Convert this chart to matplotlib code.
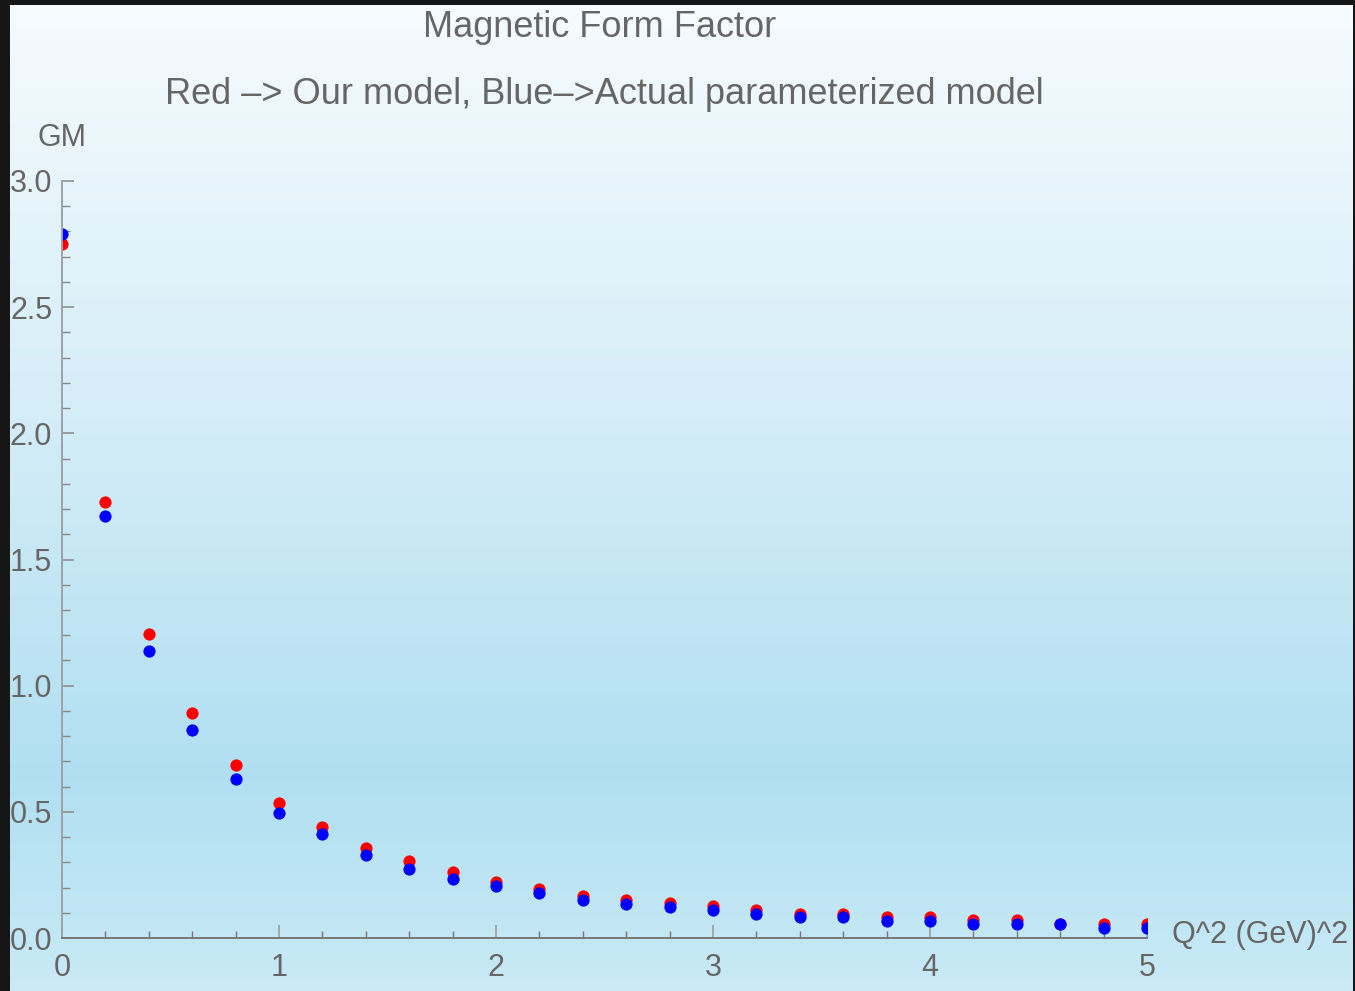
import numpy as np
import matplotlib
matplotlib.use("Agg")
import matplotlib.pyplot as plt
from matplotlib.colors import LinearSegmentedColormap
from matplotlib.patches import Rectangle
from matplotlib.ticker import MultipleLocator, FormatStrFormatter

# data
q2 = [0.0, 0.2, 0.4, 0.6, 0.8, 1.0, 1.2, 1.4, 1.6, 1.8, 2.0, 2.2, 2.4,
      2.6, 2.8, 3.0, 3.2, 3.4, 3.6, 3.8, 4.0, 4.2, 4.4, 4.6, 4.8, 5.0]
gm_ours = [2.75, 1.726, 1.206, 0.892, 0.685, 0.535, 0.441, 0.358, 0.304,
           0.263, 0.223, 0.193, 0.165, 0.151, 0.138, 0.126, 0.111, 0.097,
           0.097, 0.083, 0.083, 0.070, 0.070, 0.055, 0.057, 0.057]
gm_param = [2.79, 1.672, 1.139, 0.824, 0.630, 0.495, 0.411, 0.329, 0.273,
            0.234, 0.206, 0.178, 0.151, 0.136, 0.124, 0.110, 0.097, 0.083,
            0.083, 0.069, 0.069, 0.054, 0.054, 0.054, 0.041, 0.041]

W, H = 1355, 991
TXT = "#666666"
plt.rcParams["font.family"] = ["Liberation Sans", "DejaVu Sans"]

fig = plt.figure(figsize=(W / 100, H / 100), dpi=100)

# background: vertical gradient + dark frame
bg = fig.add_axes([0, 0, 1, 1], zorder=-10)
grad = LinearSegmentedColormap.from_list("bg", [
    (0.00, "#c9eaf6"),
    (0.22, "#b1dff1"),
    (0.55, "#d2ecf7"),
    (1.00, "#f6fbfe"),
])
bg.imshow(np.linspace(0, 1, 256).reshape(-1, 1), aspect="auto", cmap=grad,
          origin="lower", extent=[0, 1, 0, 1])
bg.set_xlim(0, 1)
bg.set_ylim(0, 1)
bg.axis("off")
for r in [(0, 0, 10 / W, 1), (0, 1 - 5 / H, 1, 5 / H), (1 - 2 / W, 0, 2 / W, 1)]:
    bg.add_patch(Rectangle(r[:2], r[2], r[3], color="#161616", lw=0))

ax = fig.add_axes([62 / W, (H - 938) / H, (1147 - 62) / W, (938 - 181) / H])
ax.patch.set_alpha(0)

ax.plot(q2, gm_ours, "o", color="#ff0000", ms=8.8, mec="none")
ax.plot(q2, gm_param, "o", color="#0000ff", ms=8.8, mec="none")

ax.set_xlim(0, 5)
ax.set_ylim(0, 3)
ax.xaxis.set_major_locator(MultipleLocator(1))
ax.xaxis.set_minor_locator(MultipleLocator(0.2))
ax.yaxis.set_major_locator(MultipleLocator(0.5))
ax.yaxis.set_minor_locator(MultipleLocator(0.1))
ax.yaxis.set_major_formatter(FormatStrFormatter("%.1f"))

for s in ["top", "right"]:
    ax.spines[s].set_visible(False)
ax.spines["left"].set_color("#9aa3a8")
ax.spines["bottom"].set_color("#777777")
ax.spines["left"].set_linewidth(1.4)
ax.spines["bottom"].set_linewidth(1.4)

ax.tick_params(axis="y", which="major", direction="in", length=8.6, width=1.1,
               color="#888888", labelsize=22, labelcolor=TXT, pad=7)
ax.tick_params(axis="y", which="minor", direction="in", length=5.5, width=1.0,
               color="#888888")
ax.tick_params(axis="x", which="major", direction="in", length=9.4, width=1.1,
               color="#999999", labelsize=22, labelcolor=TXT, pad=11)
ax.tick_params(axis="x", which="minor", direction="in", length=5, width=1.0,
               color="#777777")

# titles and axis labels
fig.text(600 / W, 1 - 37 / H, "Magnetic Form Factor", ha="center",
         va="baseline", fontsize=26, color=TXT)
fig.text(604 / W, 1 - 104 / H,
         "Red \u2013> Our model, Blue\u2013>Actual parameterized model",
         ha="center", va="baseline", fontsize=26, color=TXT)
fig.text(62 / W, 1 - 146 / H, "GM", ha="center", va="baseline",
         fontsize=22, color=TXT)
fig.text(1172 / W, 1 - 935 / H, "Q^2 (GeV)^2", ha="left", va="center",
         fontsize=22, color=TXT)

fig.savefig("out.png", dpi=100)
